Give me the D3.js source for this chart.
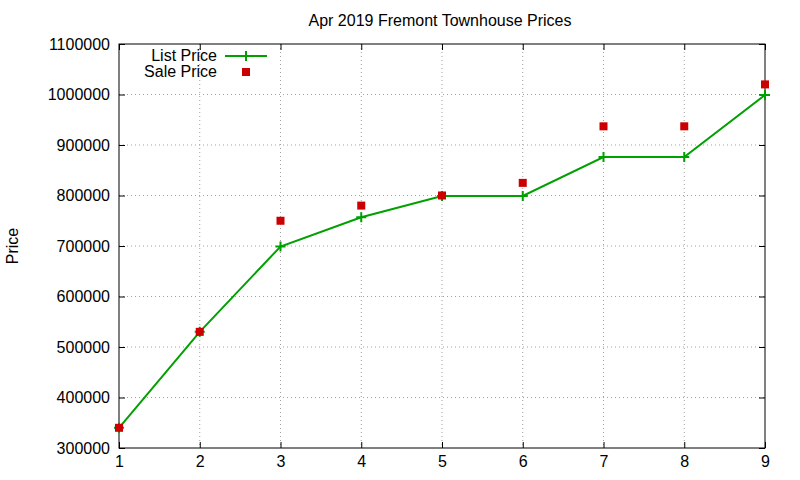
<!DOCTYPE html>
<html><head><meta charset="utf-8">
<script src="https://cdn.jsdelivr.net/npm/d3@7"></script>
<style>body{margin:0;background:#fff}text{font-family:"Liberation Sans",Arial,sans-serif}</style>
</head><body><svg id="c" width="800" height="480"></svg>
<script>
const xs = [1,2,3,4,5,6,7,8,9];
const listPrice = [340000,530000,699000,757000,799000,799000,876000,876000,999000];
const salePrice = [340000,530000,750000,780000,800000,825000,937000,937000,1020000];
const yTicks = [300000,400000,500000,600000,700000,800000,900000,1000000,1100000];

const svg = d3.select("#c");
const L=119,R=765,T=44,B=448;
const x = d3.scaleLinear().domain([1,9]).range([L,R]);
const y = d3.scaleLinear().domain([300000,1100000]).range([B,T]);
const FS=16;

const g = svg.append("g").attr("stroke","#a0a0a0").attr("stroke-dasharray","1,3").attr("stroke-width",1);
xs.slice(1,-1).forEach(v=>g.append("line").attr("x1",x(v)).attr("x2",x(v)).attr("y1",T).attr("y2",B));
yTicks.slice(1,-1).forEach(v=>g.append("line").attr("x1",L).attr("x2",R).attr("y1",y(v)).attr("y2",y(v)));

svg.append("g").attr("transform",`translate(0,${B})`).call(d3.axisBottom(x).tickValues(xs).tickSizeInner(-6).tickSizeOuter(0).tickPadding(8).tickFormat(d3.format("d")))
  .call(a=>{a.select(".domain").remove();a.selectAll("text").attr("font-size",FS).attr("fill","#000").attr("font-family","Liberation Sans,Arial");});
svg.append("g").attr("transform",`translate(${L},0)`).call(d3.axisLeft(y).tickValues(yTicks).tickSizeInner(-6).tickSizeOuter(0).tickPadding(9).tickFormat(d3.format("d")))
  .call(a=>{a.select(".domain").remove();a.selectAll("text").attr("font-size",FS).attr("fill","#000").attr("font-family","Liberation Sans,Arial");});
svg.append("g").attr("transform",`translate(0,${T})`).call(d3.axisTop(x).tickValues(xs).tickSizeInner(-6).tickSizeOuter(0).tickFormat(""))
  .call(a=>a.select(".domain").remove());
svg.append("g").attr("transform",`translate(${R},0)`).call(d3.axisRight(y).tickValues(yTicks).tickSizeInner(-6).tickSizeOuter(0).tickFormat(""))
  .call(a=>a.select(".domain").remove());
svg.append("rect").attr("x",L).attr("y",T).attr("width",R-L).attr("height",B-T).attr("fill","none").attr("stroke","#000");

svg.append("text").attr("x",440).attr("y",26).attr("text-anchor","middle").attr("font-size",FS).text("Apr 2019 Fremont Townhouse Prices");
svg.append("text").attr("transform","translate(18,246) rotate(-90)").attr("text-anchor","middle").attr("font-size",FS).text("Price");

const green="#00a000";
svg.append("path").datum(xs.map((v,i)=>[v,listPrice[i]])).attr("fill","none").attr("stroke",green).attr("stroke-width",2)
  .attr("d",d3.line().x(d=>x(d[0])).y(d=>y(d[1])));
const plus=(sel,cx,cy)=>{sel.append("path").attr("d",`M${cx-5},${cy}H${cx+5}M${cx},${cy-5}V${cy+5}`).attr("stroke",green).attr("stroke-width",2);};
xs.forEach((v,i)=>plus(svg,x(v),y(listPrice[i])));
const red="#cc0000";
svg.selectAll(".s").data(xs).enter().append("rect").attr("x",(d,i)=>x(d)-4).attr("y",(d,i)=>y(salePrice[i])-4).attr("width",8).attr("height",8).attr("fill",red);

svg.append("text").attr("x",217).attr("y",61).attr("text-anchor","end").attr("font-size",FS).text("List Price");
svg.append("line").attr("x1",225).attr("x2",267).attr("y1",56).attr("y2",56).attr("stroke",green).attr("stroke-width",2);
plus(svg,246,56);
svg.append("text").attr("x",217).attr("y",77).attr("text-anchor","end").attr("font-size",FS).text("Sale Price");
svg.append("rect").attr("x",242).attr("y",68).attr("width",8).attr("height",8).attr("fill",red);
</script></body></html>
